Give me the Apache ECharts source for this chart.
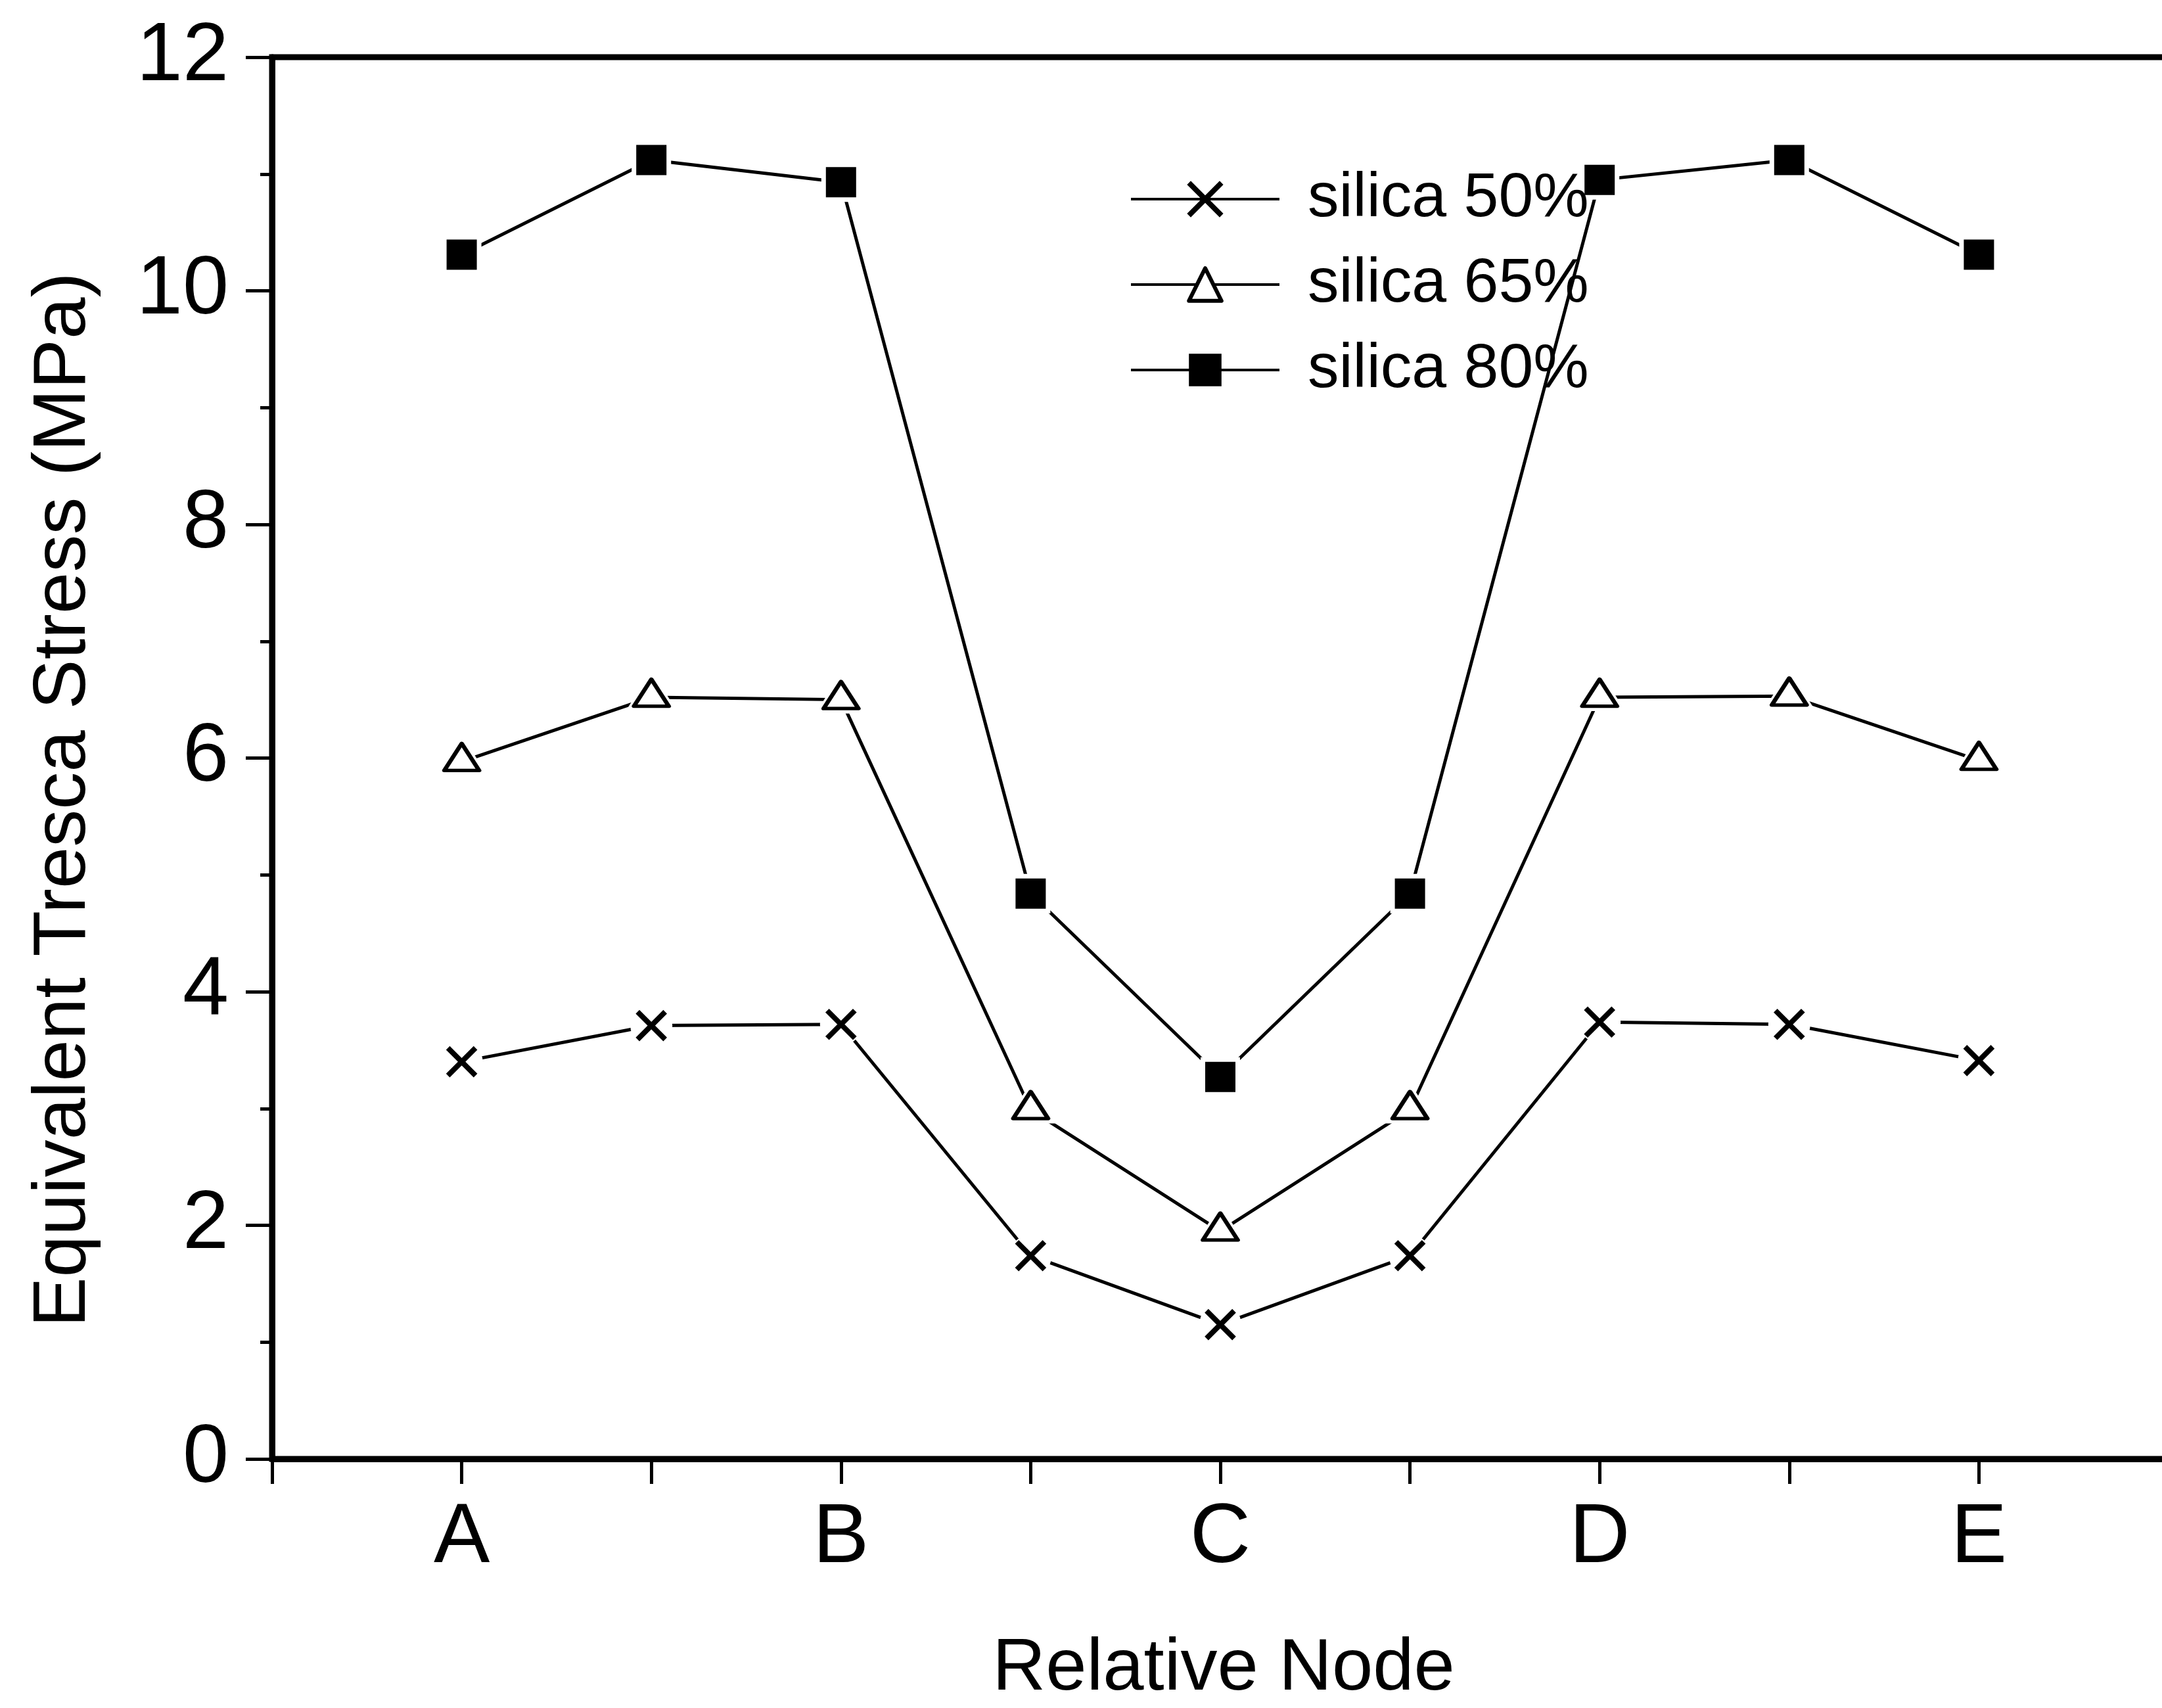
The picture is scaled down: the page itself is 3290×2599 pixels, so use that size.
<!DOCTYPE html>
<html>
<head>
<meta charset="utf-8">
<script src="https://cdn.jsdelivr.net/npm/echarts@6/dist/echarts.min.js"></script>
<style>
  html, body { margin: 0; padding: 0; background: #fff; overflow: hidden; }
  #chart { width: 3320px; height: 2599px; }
</style>
</head>
<body>
<div id="chart"></div>
<script>
// Node positions along the path; blank slots are the intermediate nodes and the axis ends
const nodeLabels = ['', 'A', '', 'B', '', 'C', '', 'D', '', 'E', ''];

// Equivalent Tresca stress (MPa) at the nine nodes
const silica50 = [3.40, 3.71, 3.72, 1.74, 1.15, 1.74, 3.74, 3.72, 3.41];
const silica65 = [5.97, 6.52, 6.50, 2.99, 1.95, 2.99, 6.52, 6.53, 5.98];
const silica80 = [10.31, 11.12, 10.93, 4.84, 3.27, 4.84, 10.95, 11.12, 10.31];

const seriesNames = ['silica 50%', 'silica 65%', 'silica 80%'];

const FONT = '"Liberation Sans", Arial, Helvetica, sans-serif';
const pad = arr => [null, ...arr, null];

const crossPath = 'path://M0 0L10 10M10 0L0 10';

const markerStyles = [
  { symbol: crossPath, symbolSize: 42, symbolOffset: [0, 0],
    itemStyle: { color: 'rgba(0,0,0,0)', borderColor: '#000', borderWidth: 8, borderCap: 'butt' },
    halo: { symbol: 'circle', symbolSize: 64, symbolOffset: [0, 0] } },
  { symbol: 'triangle', symbolSize: [53, 41], symbolOffset: [0, -7],
    itemStyle: { color: '#fff', borderColor: '#000', borderWidth: 6, borderJoin: 'round' },
    halo: { symbol: 'triangle', symbolSize: [78, 62], symbolOffset: [0, -10] } },
  { symbol: 'rect', symbolSize: 46, symbolOffset: [0, 0],
    itemStyle: { color: '#000', borderColor: '#000', borderWidth: 0 },
    halo: { symbol: 'rect', symbolSize: 60, symbolOffset: [0, 0] } }
];

const datasets = [silica50, silica65, silica80];

const lineSeries = [];
const haloSeries = [];
const markSeries = [];

datasets.forEach((values, i) => {
  const m = markerStyles[i];
  const data = pad(values);
  lineSeries.push({
    name: seriesNames[i],
    type: 'line',
    data: data,
    z: 2,
    symbol: m.symbol,
    symbolSize: m.symbolSize,
    symbolOffset: m.symbolOffset,
    showAllSymbol: true,
    lineStyle: { color: '#000', width: 5 },
    itemStyle: m.itemStyle,
    emphasis: { disabled: true }
  });
  // white ring so the connecting lines stop short of each marker
  haloSeries.push({
    name: 'gap ' + i,
    type: 'line',
    data: data,
    z: 3,
    silent: true,
    symbol: m.halo.symbol,
    symbolSize: m.halo.symbolSize,
    symbolOffset: m.halo.symbolOffset,
    showAllSymbol: true,
    lineStyle: { opacity: 0 },
    itemStyle: { color: '#fff', borderWidth: 0 },
    emphasis: { disabled: true }
  });
  markSeries.push({
    name: 'marker ' + i,
    type: 'line',
    data: data,
    z: 4,
    silent: true,
    symbol: m.symbol,
    symbolSize: m.symbolSize,
    symbolOffset: m.symbolOffset,
    showAllSymbol: true,
    lineStyle: { opacity: 0 },
    itemStyle: m.itemStyle,
    emphasis: { disabled: true }
  });
});

const legendItems = seriesNames.map((name, i) => ({
  name: name,
  itemStyle: markerStyles[i].itemStyle,
  lineStyle: { color: '#000', width: 4 }
}));

const chart = echarts.init(document.getElementById('chart'), null, { renderer: 'canvas' });

chart.setOption({
  animation: false,
  backgroundColor: '#fff',
  grid: {
    left: 414, right: 20, top: 87, bottom: 379,
    show: true, borderColor: '#000', borderWidth: 9, backgroundColor: 'transparent'
  },
  legend: {
    data: legendItems,
    orient: 'vertical',
    left: 1714,
    top: 248,
    itemWidth: 226,
    itemHeight: 62,
    itemGap: 30,
    selectedMode: false,
    textStyle: {
      fontFamily: FONT, fontSize: 95, color: '#000', lineHeight: 100,
      padding: [0, 0, 0, 38]
    }
  },
  xAxis: {
    type: 'category',
    data: nodeLabels,
    boundaryGap: false,
    axisLine: { show: true, lineStyle: { color: '#000', width: 9 } },
    axisTick: { show: true, interval: 0, length: 38, lineStyle: { color: '#000', width: 5 } },
    axisLabel: {
      interval: 0, margin: 58, color: '#000',
      fontFamily: FONT, fontSize: 128
    },
    splitLine: { show: false }
  },
  yAxis: {
    type: 'value',
    min: 0, max: 12, interval: 2,
    axisLine: { show: true, lineStyle: { color: '#000', width: 9 } },
    axisTick: { show: true, length: 40, lineStyle: { color: '#000', width: 5 } },
    minorTick: { show: true, splitNumber: 2, length: 18, lineStyle: { color: '#000', width: 5 } },
    axisLabel: {
      margin: 66, color: '#000', fontFamily: FONT, fontSize: 126,
      padding: [0, 0, 20, 0]
    },
    splitLine: { show: false }
  },
  graphic: [
    {
      type: 'text',
      x: 98, y: 1217,
      rotation: Math.PI / 2,
      style: {
        text: 'Equivalent Tresca Stress (MPa)',
        font: '114px ' + FONT,
        fill: '#000',
        align: 'center',
        verticalAlign: 'middle'
      }
    },
    {
      type: 'text',
      x: 1862, y: 2540,
      style: {
        text: 'Relative Node',
        font: '112px ' + FONT,
        fill: '#000',
        align: 'center',
        verticalAlign: 'middle'
      }
    }
  ],
  series: [...lineSeries, ...haloSeries, ...markSeries]
});
</script>
</body>
</html>
